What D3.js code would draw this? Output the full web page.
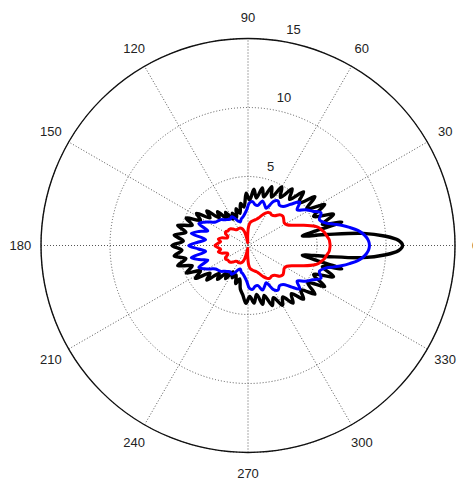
<!DOCTYPE html>
<html>
<head>
<meta charset="utf-8">
<script src="https://cdn.jsdelivr.net/npm/d3@7"></script>
<style>
  body { margin: 0; background: #fff; }
  svg { display: block; font-family: "Liberation Sans", Arial, Helvetica, sans-serif; }
</style>
</head>
<body>
<div id="chart"></div>
<script>
// polar angles (degrees, counter-clockwise from 0 = right)
const angles = [
  0, 2, 4, 6, 8, 10, 12, 14, 16,
  20, 24, 28, 32, 36, 40, 44, 48, 52, 56, 60, 64, 68, 72, 76, 80, 84, 88,
  92, 96, 100, 104, 108, 112, 116, 120, 124, 128, 132, 136, 140, 144, 148,
  152, 156, 160, 164, 168, 172, 176, 180,
  184, 188, 192, 196, 200, 204, 208, 212, 216, 220, 224, 228, 232, 236, 240,
  244, 248, 252, 256, 260, 264, 268, 272, 276, 280, 284, 288, 292, 296, 300,
  304, 308, 312, 316, 320, 324, 328, 332, 336, 340,
  344, 346, 348, 350, 352, 354, 356, 358
];

// black curve
const blackR = [
  11.2, 10.9, 9.9, 8.4, 5.7, 4.0, 4.9, 7.0, 5.6,
  6.6, 5.2, 6.3, 5.0, 6.0, 4.8, 5.6, 4.5, 5.2, 4.2, 4.9, 3.9, 4.6, 3.7, 4.3, 3.5, 4.1, 3.3,
  3.8, 2.8, 3.1, 2.4, 2.8, 2.2, 2.6, 2.2, 2.9, 2.5, 3.3, 2.9, 3.9, 3.4, 4.4,
  3.9, 4.9, 4.3, 5.3, 4.6, 5.4, 4.7, 5.5,
  4.8, 5.4, 4.6, 5.3, 4.3, 4.9, 3.9, 4.5, 3.4, 3.9, 2.9, 3.3, 2.5, 2.9, 2.2,
  2.6, 2.3, 2.9, 2.5, 3.2, 3.6, 4.2, 3.7, 4.2, 3.6, 4.4, 3.8, 4.7, 4.2, 5.0,
  4.5, 5.3, 4.7, 5.6, 5.0, 6.0, 5.1, 6.3, 5.2, 6.6,
  5.6, 7.0, 4.9, 4.0, 5.7, 8.4, 9.9, 10.9
];

// blue curve
const blueR = [
  8.8, 8.75, 8.6, 8.35, 8.0, 7.5, 7.0, 6.4, 5.9,
  5.5, 5.8, 5.3, 4.9, 4.4, 4.9, 4.3, 3.8, 3.7, 3.9, 3.7, 3.0, 3.2, 3.4, 3.0, 3.0, 3.2, 3.1,
  2.6, 2.3, 2.1, 2.0, 1.8, 1.9, 2.2, 2.4, 2.3, 2.4, 2.5, 2.7, 2.8, 2.9, 3.2,
  3.6, 3.9, 3.1, 3.7, 4.2, 3.1, 3.6, 4.3,
  3.6, 3.1, 4.2, 3.7, 3.1, 3.9, 3.6, 3.2, 2.9, 2.8, 2.7, 2.5, 2.4, 2.3, 2.4,
  2.2, 1.9, 1.8, 2.0, 2.1, 2.3, 2.6, 3.1, 3.2, 3.0, 3.0, 3.4, 3.2, 3.0, 3.7,
  3.9, 3.7, 3.8, 4.3, 4.9, 4.4, 4.9, 5.3, 5.8, 5.5,
  5.9, 6.4, 7.0, 7.5, 8.0, 8.35, 8.6, 8.75
];

// red curve
const redR = [
  5.95, 5.93, 5.9, 5.8, 5.7, 5.6, 5.45, 5.3, 5.05,
  4.3, 3.6, 3.2, 3.1, 3.2, 3.3, 3.2, 2.9, 2.8, 2.85, 2.75, 2.5, 2.2, 2.0, 1.9, 1.8, 1.7, 1.4,
  0.7, 0.2, 0.5, 1.0, 1.25, 1.35, 1.4, 1.4, 1.4, 1.45, 1.6, 1.75, 1.8, 1.8, 1.9,
  1.85, 1.6, 1.6, 2.0, 2.2, 2.0, 2.2, 2.4,
  2.2, 2.0, 2.2, 2.0, 1.6, 1.6, 1.85, 1.9, 1.8, 1.8, 1.75, 1.6, 1.45, 1.4, 1.4,
  1.4, 1.35, 1.25, 1.0, 0.5, 0.2, 0.7, 1.4, 1.7, 1.8, 1.9, 2.0, 2.2, 2.5, 2.75,
  2.85, 2.8, 2.9, 3.2, 3.3, 3.2, 3.1, 3.2, 3.6, 4.3,
  5.05, 5.3, 5.45, 5.6, 5.7, 5.8, 5.9, 5.93
];

const ringTicks = [5, 10, 15];
const spokeAngles = [0, 30, 60, 90, 120, 150];
const angleLabels = [0, 30, 60, 90, 120, 150, 180, 210, 240, 270, 300, 330];

const W = 473, H = 481;
const cx = 248, cy = 245.5;
const rMax = 15;

const svg = d3.select("#chart").append("svg")
  .attr("width", W)
  .attr("height", H);

svg.append("rect").attr("width", W).attr("height", H).attr("fill", "#fff");

const r = d3.scaleLinear().domain([0, rMax]).range([0, 207]);
const rad = d => d * Math.PI / 180;

const g = svg.append("g").attr("transform", `translate(${cx},${cy})`);

// dotted rings
g.selectAll(".ring")
  .data(ringTicks)
  .enter().append("circle")
  .attr("class", "ring")
  .attr("r", d => r(d))
  .attr("fill", "none")
  .attr("stroke", "#555")
  .attr("stroke-width", 1)
  .attr("stroke-dasharray", "1,2");

// dotted spokes across the whole diameter
g.selectAll(".spoke")
  .data(spokeAngles)
  .enter().append("line")
  .attr("class", "spoke")
  .attr("x1", d => -r(rMax) * Math.cos(rad(d)))
  .attr("y1", d => r(rMax) * Math.sin(rad(d)))
  .attr("x2", d => r(rMax) * Math.cos(rad(d)))
  .attr("y2", d => -r(rMax) * Math.sin(rad(d)))
  .attr("stroke", "#555")
  .attr("stroke-width", 1)
  .attr("stroke-dasharray", "1,2");

// solid outer circle
g.append("circle")
  .attr("r", r(rMax))
  .attr("fill", "none")
  .attr("stroke", "#111")
  .attr("stroke-width", 1.4);

// ring labels along 82 degrees
g.selectAll(".rlabel")
  .data(ringTicks)
  .enter().append("text")
  .attr("class", "rlabel")
  .attr("x", d => r(d + 0.25) * Math.cos(rad(82)) + 9)
  .attr("y", d => -r(d + 0.25) * Math.sin(rad(82)) - 3)
  .attr("font-size", 13)
  .attr("fill", "#222")
  .text(d => d);

// angle labels
g.selectAll(".alabel")
  .data(angleLabels)
  .enter().append("text")
  .attr("class", "alabel")
  .attr("x", d => 1.1 * r(rMax) * Math.cos(rad(d)))
  .attr("y", d => -1.1 * r(rMax) * Math.sin(rad(d)))
  .attr("dy", "0.36em")
  .attr("text-anchor", "middle")
  .attr("font-size", 13)
  .attr("fill", "#222")
  .text(d => d);

// curves
const series = [
  { values: blackR, color: "#000", width: 3.4 },
  { values: blueR, color: "#0000ff", width: 3 },
  { values: redR, color: "#ff0000", width: 3 }
];

const line = d3.lineRadial()
  .angle(d => Math.PI / 2 - rad(d[0]))
  .radius(d => r(d[1]))
  .curve(d3.curveCatmullRomClosed.alpha(0.5));

g.selectAll(".curve")
  .data(series)
  .enter().append("path")
  .attr("class", "curve")
  .attr("d", s => line(angles.map((a, i) => [a, s.values[i]])))
  .attr("fill", "none")
  .attr("stroke", s => s.color)
  .attr("stroke-width", s => s.width)
  .attr("stroke-linejoin", "round");
</script>
</body>
</html>
